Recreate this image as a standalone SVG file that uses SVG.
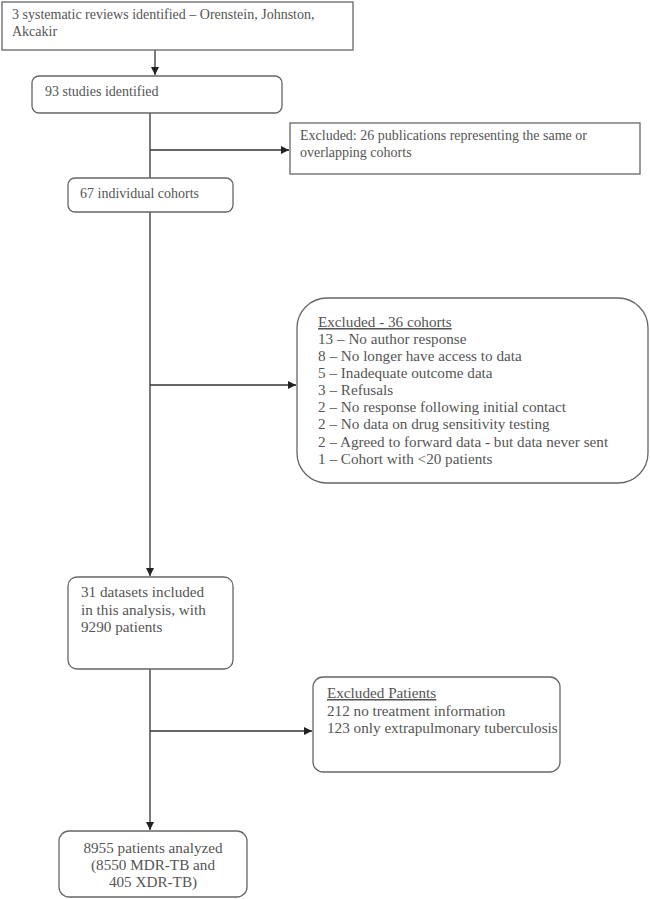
<svg xmlns="http://www.w3.org/2000/svg" width="650" height="899" viewBox="0 0 650 899">
<defs>
<style>
.box{fill:#fff;stroke:#666;stroke-width:1.3}
.t{font-family:"Liberation Serif","Times New Roman",serif;font-size:14px;fill:#555}
.l{font-size:15.2px}
.c{fill:none;stroke:#333;stroke-width:1.3}
.u{text-decoration:underline}
</style>
<marker id="ah" viewBox="0 0 10 10" refX="10" refY="5" markerWidth="8" markerHeight="8" markerUnits="userSpaceOnUse" orient="auto">
<path d="M0,0 L10,5 L0,10 z" fill="#222"/>
</marker>
</defs>
<rect width="650" height="899" fill="#fff"/>
<g id="connectors">
<line class="c" x1="155" y1="50" x2="155" y2="75" marker-end="url(#ah)"/>
<line class="c" x1="150" y1="113" x2="150" y2="178"/>
<line class="c" x1="150" y1="150" x2="289" y2="150" marker-end="url(#ah)"/>
<line class="c" x1="150" y1="212" x2="150" y2="576" marker-end="url(#ah)"/>
<line class="c" x1="150" y1="385" x2="296" y2="385" marker-end="url(#ah)"/>
<line class="c" x1="150" y1="669" x2="150" y2="830" marker-end="url(#ah)"/>
<line class="c" x1="150" y1="731" x2="312" y2="731" marker-end="url(#ah)"/>
</g>
<g id="n1">
<rect class="box" x="2" y="2" width="351" height="48"/>
<text class="t" x="12" y="19">3 systematic reviews identified – Orenstein, Johnston,</text>
<text class="t" x="12" y="36">Akcakir</text>
</g>
<g id="n2">
<rect class="box" x="32" y="76" width="250" height="37" rx="7"/>
<text class="t" x="45" y="96">93 studies identified</text>
</g>
<g id="n3">
<rect class="box" x="290" y="123" width="350" height="51"/>
<text class="t" x="300" y="140">Excluded: 26 publications representing the same or</text>
<text class="t" x="300" y="157">overlapping cohorts</text>
</g>
<g id="n4">
<rect class="box" x="68" y="178" width="165" height="34" rx="7"/>
<text class="t" x="80" y="198">67 individual cohorts</text>
</g>
<g id="n5">
<rect class="box" x="297" y="298" width="351" height="185" rx="30"/>
<text class="t l u" x="318" y="327">Excluded - 36 cohorts</text>
<text class="t l" x="318" y="344">13 – No author response</text>
<text class="t l" x="318" y="361">8 – No longer have access to data</text>
<text class="t l" x="318" y="378">5 – Inadequate outcome data</text>
<text class="t l" x="318" y="395">3 – Refusals</text>
<text class="t l" x="318" y="412">2 – No response following initial contact</text>
<text class="t l" x="318" y="429">2 – No data on drug sensitivity testing</text>
<text class="t l" x="318" y="447">2 – Agreed to forward data - but data never sent</text>
<text class="t l" x="318" y="464">1 – Cohort with &lt;20 patients</text>
</g>
<g id="n6">
<rect class="box" x="68" y="577" width="165" height="92" rx="9"/>
<text class="t l" x="81" y="597">31 datasets included</text>
<text class="t l" x="81" y="615">in this analysis, with</text>
<text class="t l" x="81" y="632">9290 patients</text>
</g>
<g id="n7">
<rect class="box" x="313" y="677" width="247" height="95" rx="10"/>
<text class="t l u" x="327" y="698">Excluded Patients</text>
<text class="t l" x="327" y="716">212 no treatment information</text>
<text class="t l" x="327" y="733">123 only extrapulmonary tuberculosis</text>
</g>
<g id="n8">
<rect class="box" x="59" y="831" width="188" height="66" rx="10"/>
<text class="t l" x="153" y="853" text-anchor="middle">8955 patients analyzed</text>
<text class="t l" x="153" y="870" text-anchor="middle">(8550 MDR-TB and</text>
<text class="t l" x="153" y="887" text-anchor="middle">405 XDR-TB)</text>
</g>
</svg>
